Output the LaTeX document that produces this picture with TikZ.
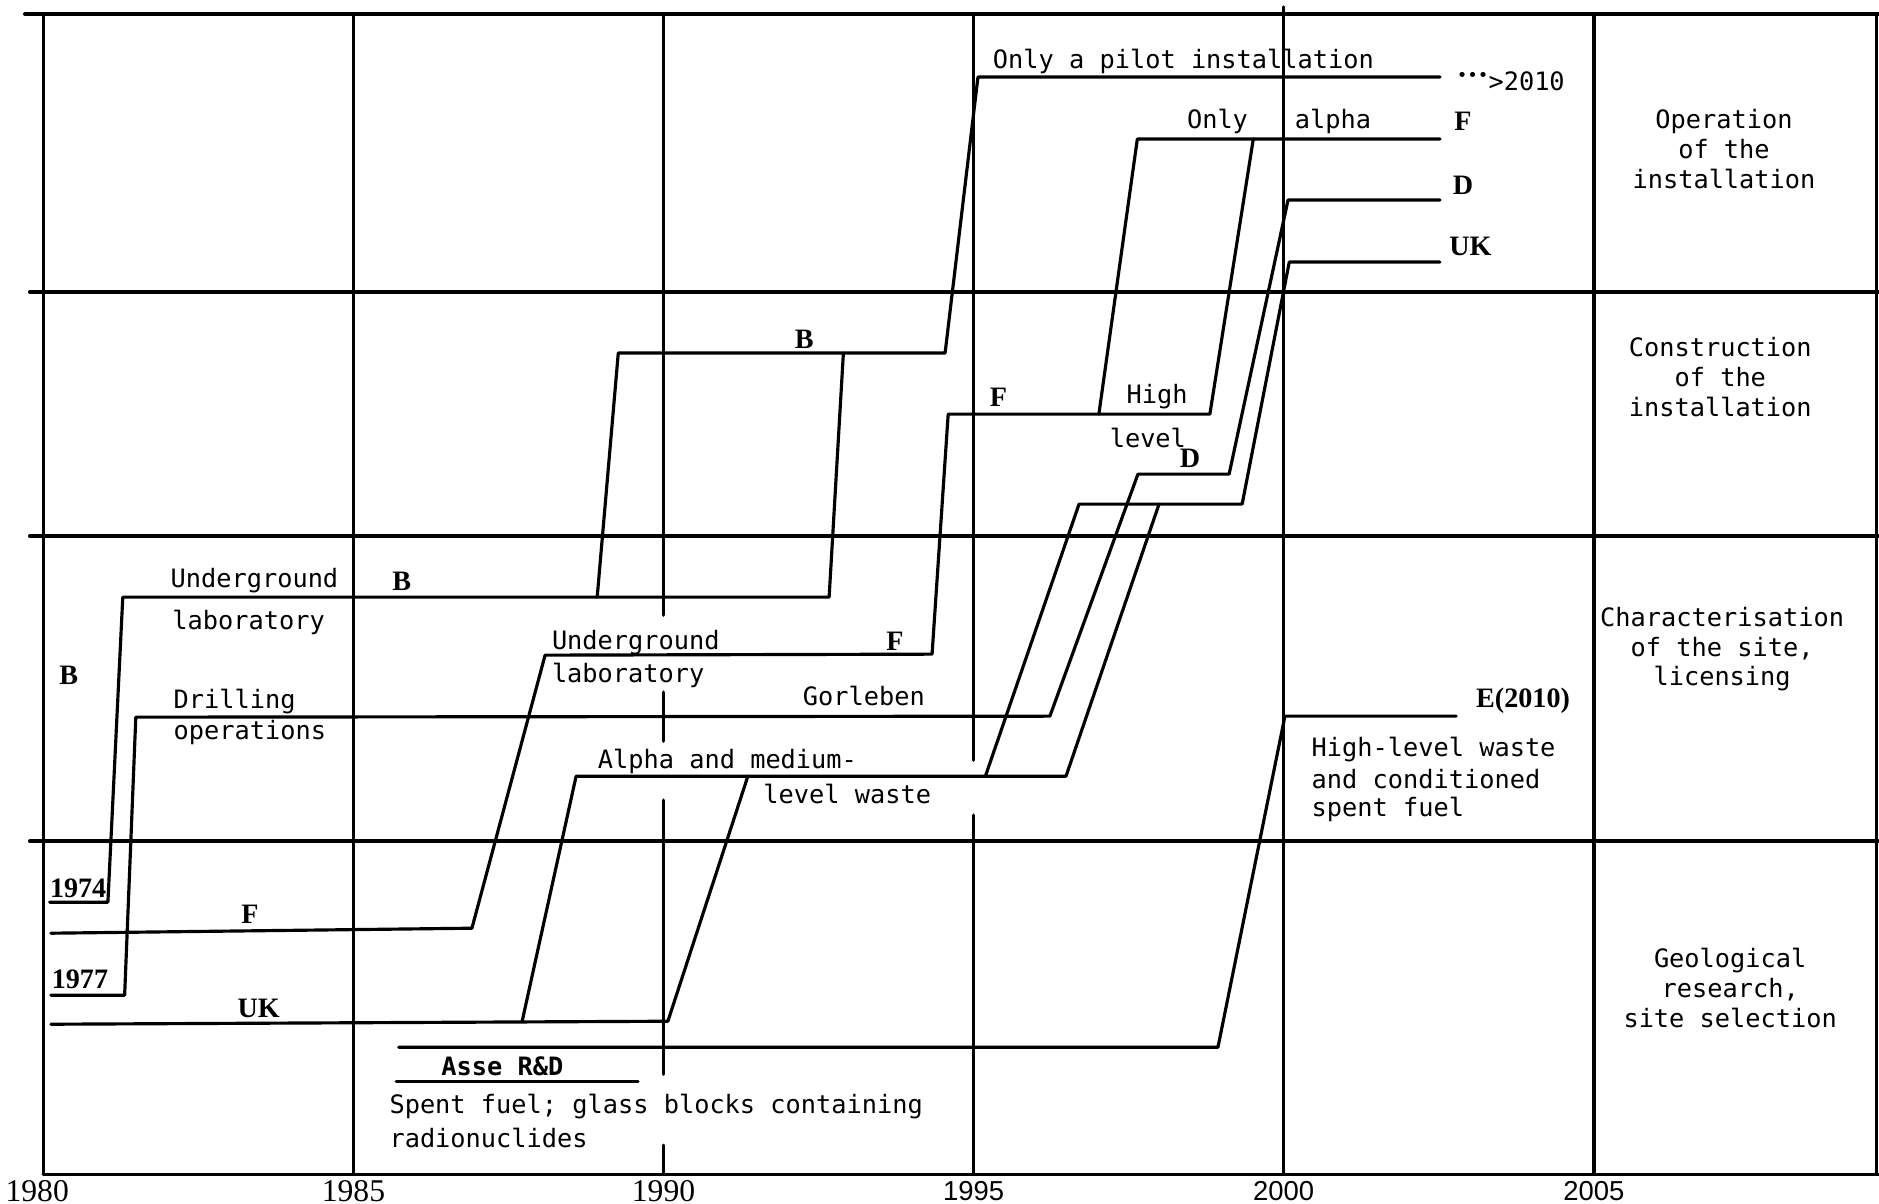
\documentclass[tikz,border=0pt]{standalone}
\usepackage{fontspec}
\setmonofont{DejaVu Sans Mono}
\newfontfamily\tagfont{Liberation Serif}
\newfontfamily\yrsans{Liberation Sans}
\begin{document}
\begin{tikzpicture}[x=0.62cm,y=1cm,line join=round,line cap=round,
	font=\ttfamily\fontsize{7.2}{8.5}\selectfont,
	grid/.style={line width=1pt},
	track/.style={line width=0.9pt},
	tag/.style={inner sep=0pt,font=\tagfont\bfseries\fontsize{8}{9}\selectfont},
	lbl/.style={anchor=west,inner sep=0pt},
	phase/.style={align=center,inner sep=0pt}]
	\def\xmin{-0.7} \def\xmax{29.6} \def\ymin{-0.29} \def\ymax{11.74}
	\useasboundingbox (\xmin,\ymin) rectangle (\xmax,\ymax);
	% frame, phase rows and year lines
	\draw[grid] (-0.3,11.6)--(\xmax,11.6);
	\foreach \y in {8.82,6.38,3.33} \draw[grid] (-0.22,\y)--(\xmax,\y);
	\draw[grid] (0,0)--(\xmax,0);
	\draw[grid] (0,0)--(0,11.6) (29.56,0)--(29.56,11.6);
	\foreach \t in {5,25} \draw[grid] (\t,0)--(\t,11.6);
	\draw[grid] (20,0)--(20,11.67);
	\draw[grid] (10,11.6)--(10,5.59) (10,4.82)--(10,4.33) (10,3.74)--(10,1.00) (10,0.29)--(10,0);
	\draw[grid] (15,11.6)--(15,4.14) (15,3.59)--(15,0);
	\foreach \t/\yr in {-0.1/1980,5/1985,10/1990}
		\node[font=\tagfont\fontsize{9}{10}\selectfont,inner sep=0pt,anchor=north] (yr\yr) at (\t,-0.05) {\yr};
	\foreach \t/\yr in {15/1995,20/2000,25/2005}
		\node[font=\yrsans\fontsize{7.8}{9}\selectfont,inner sep=0pt,anchor=north] (yr\yr) at (\t,-0.06) {\yr};
	% B
	\draw[track] (0.1,2.72)--(1.04,2.72)--(1.28,5.77)--(12.67,5.77)--(12.90,8.21);
	\draw[track] (8.93,5.77)--(9.27,8.21)--(14.54,8.21)--(15.07,10.97)--(22.52,10.97);
	% F
	\draw[track] (0.12,2.41)--(6.91,2.46)--(8.09,5.19)--(14.33,5.20)--(14.59,7.60)--(18.81,7.60)--(19.51,10.35);
	\draw[track] (17.02,7.60)--(17.64,10.35)--(22.52,10.35);
	% D
	\draw[track] (0.12,1.79)--(1.31,1.79)--(1.49,4.57)--(16.23,4.58)--(17.65,7.00)--(19.12,7.00)--(20.07,9.74)--(22.52,9.74);
	% UK
	\draw[track] (0.12,1.50)--(10.07,1.53)--(11.36,3.98);
	\draw[track] (7.72,1.53)--(8.59,3.98)--(16.49,3.98)--(17.99,6.70);
	\draw[track] (15.19,3.98)--(16.70,6.70)--(19.33,6.70)--(20.09,9.12)--(22.52,9.12);
	% E and Asse
	\draw[track] (5.73,1.27)--(18.94,1.27)--(20.02,4.58)--(22.78,4.58);
	\draw[track] (5.69,0.93)--(9.59,0.93);
	% labels
	\node[tag] (bA) at (0.41,4.99) {B};
	\node[tag] (y74) at (0.56,2.86) {1974};
	\node[tag] (y77) at (0.59,1.95) {1977};
	\node[tag] (fA) at (3.33,2.60) {F};
	\node[tag] (ukA) at (3.47,1.66) {UK};
	\node[lbl] (ugA) at (2.04,5.94) {Underground};
	\node[lbl] (lbA) at (2.07,5.52) {laboratory};
	\node[tag] (bB) at (5.78,5.93) {B};
	\node[lbl] (drA) at (2.09,4.73) {Drilling};
	\node[lbl] (drB) at (2.09,4.42) {operations};
	\node[inner sep=0pt,font=\ttfamily\bfseries\fontsize{7.2}{8.5}\selectfont] (asse) at (7.40,1.08) {Asse R\&D};
	\node[lbl] (spA) at (5.57,0.68) {Spent fuel; glass blocks containing};
	\node[lbl] (spB) at (5.57,0.36) {radionuclides};
	\node[lbl] (ugB) at (8.19,5.32) {Underground};
	\node[lbl] (lbB) at (8.19,4.99) {laboratory};
	\node[tag] (fB) at (13.73,5.33) {F};
	\node[inner sep=0pt] (gor) at (13.23,4.78) {Gorleben};
	\node[lbl] (amA) at (8.93,4.13) {Alpha and medium-};
	\node[lbl] (amB) at (11.60,3.80) {level waste};
	\node[tag] (bC) at (12.27,8.35) {B};
	\node[tag] (fC) at (15.40,7.77) {F};
	\node[inner sep=0pt] (hiA) at (17.96,7.77) {High};
	\node[inner sep=0pt] (hiB) at (17.81,7.36) {level};
	\node[tag] (dC) at (18.49,7.16) {D};
	\node[lbl] (pil) at (15.30,11.13) {Only a pilot installation};
	\node[lbl] (onA) at (18.43,10.53) {Only};
	\node[lbl] (onB) at (20.17,10.53) {alpha};
	\node[lbl] (gt) at (22.78,10.93) {{\fontsize{5}{5}\selectfont\raisebox{0.5em}{•••}}>2010};
	\node[tag] (fD) at (22.89,10.53) {F};
	\node[tag] (dD) at (22.89,9.89) {D};
	\node[tag] (ukD) at (23.01,9.28) {UK};
	\node[tag] (e10) at (23.86,4.73) {E(2010)};
	\node[lbl] (hlA) at (20.44,4.25) {High-level waste};
	\node[lbl] (hlB) at (20.44,3.95) {and conditioned};
	\node[lbl] (hlC) at (20.44,3.65) {spent fuel};
	% phases
	\node[phase] (ph4) at (27.10,10.25) {Operation\\of the\\installation};
	\node[phase] (ph3) at (27.04,7.97) {Construction\\of the\\installation};
	\node[phase] (ph2) at (27.07,5.25) {Characterisation\\of the site,\\licensing};
	\node[phase] (ph1) at (27.20,1.86) {Geological\\research,\\site selection};
\end{tikzpicture}
\end{document}
